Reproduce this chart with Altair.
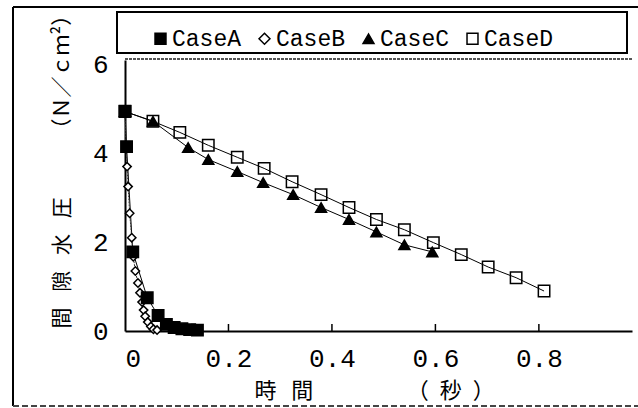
import altair as alt
import pandas as pd

cases = ["CaseA", "CaseB", "CaseC", "CaseD"]

a_t = [0.0, 0.003, 0.015, 0.043, 0.064, 0.080, 0.095, 0.110, 0.125, 0.140]
a_p = [4.95, 4.15, 1.78, 0.75, 0.35, 0.15, 0.08, 0.05, 0.03, 0.02]

b_t = [0.0, 0.002, 0.004, 0.006, 0.009, 0.013, 0.016, 0.020, 0.025, 0.029,
       0.033, 0.036, 0.039, 0.044, 0.050, 0.055, 0.062]
b_p = [4.94, 4.10, 3.70, 3.25, 2.65, 2.10, 1.67, 1.35, 1.08, 0.86,
       0.65, 0.47, 0.33, 0.20, 0.10, 0.04, 0.02]

c_t = [0.0, 0.054, 0.122, 0.161, 0.217, 0.267, 0.325, 0.379, 0.433, 0.486, 0.540, 0.594]
c_p = [4.94, 4.72, 4.13, 3.86, 3.59, 3.34, 3.07, 2.78, 2.51, 2.23, 1.94, 1.78]

d_t = [0.0, 0.054, 0.106, 0.161, 0.217, 0.269, 0.323, 0.379, 0.433, 0.486,
       0.540, 0.596, 0.650, 0.702, 0.756, 0.810]
d_p = [4.94, 4.72, 4.47, 4.18, 3.91, 3.66, 3.36, 3.07, 2.78, 2.51,
       2.28, 1.99, 1.72, 1.44, 1.20, 0.90]

x_ticks = [0, 0.2, 0.4, 0.6, 0.8]
y_ticks = [0, 2, 4, 6]

x_title = "時\u2002\u2006間\u3000\u3000\u3000\u3000\u2005（\u2002秒\u2002）"
y_title = "間\u2002\u2005隙\u2002\u2005水\u2002\u2005圧\u3000\u3000\u2002\u2005（Ｎ／ｃｍ²）"

rows = []
for name, ts, ps in zip(cases, [a_t, b_t, c_t, d_t], [a_p, b_p, c_p, d_p]):
    for i, (t, p) in enumerate(zip(ts, ps)):
        rows.append({"case": name, "t": t, "p": p, "i": i})
df = pd.DataFrame(rows)
ticks_df = pd.DataFrame({"t": x_ticks[1:]})

W, H = 507, 271
OFF_L, OFF_T = 125, 60

xs = alt.Scale(domain=[0, 0.98], nice=False, zero=False)
ys = alt.Scale(domain=[0, 6.1], nice=False)

x_axis = alt.Axis(
    values=x_ticks, ticks=False, grid=False, domainColor="black", domainWidth=2,
    labelFont="Liberation Mono", labelFontSize=26, labelColor="black",
    labelPadding=14, labelExpr="datum.value == 0 ? '0' : format(datum.value, '.1f')",
    title=x_title, titleFont="Noto Sans CJK JP", titleFontSize=22, titleFontWeight="normal",
    titleColor="black", titleAlign="left", titleAnchor="start", titleBaseline="middle",
    titleX=129, titleY=59,
)
y_axis = alt.Axis(
    values=y_ticks, ticks=False, grid=False, domainColor="black", domainWidth=2,
    labelFont="Liberation Mono", labelFontSize=26, labelColor="black", labelPadding=17,
    title=y_title, titleFont="Noto Sans CJK JP", titleFontSize=21, titleFontWeight="normal",
    titleColor="black", titleAngle=-90, titleAlign="left", titleBaseline="middle",
    titleX=-63, titleY=268,
)

base = alt.Chart(df)

lines = base.transform_filter(alt.datum.case != "CaseB").mark_line(
    color="black", strokeWidth=1
).encode(
    x=alt.X("t:Q", scale=xs, axis=x_axis),
    y=alt.Y("p:Q", scale=ys, axis=y_axis),
    detail="case:N",
    order="i:Q",
)
line_b = base.transform_filter(alt.datum.case == "CaseB").mark_line(
    color="#333333", strokeWidth=1, strokeDash=[2, 1]
).encode(
    x=alt.X("t:Q", scale=xs),
    y=alt.Y("p:Q", scale=ys),
    order="i:Q",
)

leg = alt.Legend(
    orient="none", legendX=24, legendY=-33, direction="horizontal", columns=4,
    title=None, labelFont="Liberation Mono", labelFontSize=23, labelColor="black",
    symbolSize=120, symbolStrokeWidth=1.5,
    columnPadding=11, labelOffset=0, padding=0,
)

shape_scale = alt.Scale(domain=cases, range=["square", "diamond", "triangle-up", "square"])
fill_scale = alt.Scale(domain=cases, range=["black", "white", "black", "transparent"])
stroke_scale = alt.Scale(domain=cases, range=["black", "black", "black", "black"])
marker_sizes = {"CaseA": 130, "CaseB": 70, "CaseC": 120, "CaseD": 130}


def point_layer(name):
    return base.transform_filter(alt.datum.case == name).mark_point(
        strokeWidth=1.5, opacity=1, fillOpacity=1, size=marker_sizes[name]
    ).encode(
        x=alt.X("t:Q", scale=xs),
        y=alt.Y("p:Q", scale=ys),
        shape=alt.Shape("case:N", scale=shape_scale, legend=leg),
        fill=alt.Fill("case:N", scale=fill_scale, legend=leg),
        stroke=alt.Stroke("case:N", scale=stroke_scale, legend=leg),
    )


tick_marks = alt.Chart(ticks_df).mark_rule(color="black", strokeWidth=1.5).encode(
    x=alt.X("t:Q", scale=xs),
    y=alt.value(H),
    y2=alt.value(H - 7),
)

legend_box = alt.Chart(ticks_df).mark_rect(
    filled=False, stroke="black", strokeWidth=2
).encode(
    x=alt.value(117 - OFF_L), x2=alt.value(627 - OFF_L),
    y=alt.value(12 - OFF_T), y2=alt.value(53 - OFF_T),
)

plot_top = alt.Chart(ticks_df).mark_rule(color="#555555", strokeWidth=2, strokeDash=[3, 1]).encode(
    x=alt.value(0), x2=alt.value(W), y=alt.value(-1)
)
frame_left = alt.Chart(ticks_df).mark_rule(color="black", strokeWidth=2).encode(
    x=alt.value(13 - OFF_L), y=alt.value(7 - OFF_T), y2=alt.value(406 - OFF_T)
)
frame_top = alt.Chart(ticks_df).mark_rule(color="black", strokeWidth=1.5).encode(
    x=alt.value(13 - OFF_L), x2=alt.value(640 - OFF_L), y=alt.value(7 - OFF_T)
)
frame_bottom = alt.Chart(ticks_df).mark_rule(color="#444444", strokeWidth=1.5, strokeDash=[6, 3]).encode(
    x=alt.value(13 - OFF_L), x2=alt.value(640 - OFF_L), y=alt.value(406 - OFF_T)
)

chart = alt.layer(
    frame_left, frame_top, frame_bottom, legend_box, plot_top,
    lines, line_b, tick_marks,
    point_layer("CaseD"), point_layer("CaseC"), point_layer("CaseB"), point_layer("CaseA"),
).properties(
    width=W, height=H,
    autosize=alt.AutoSizeParams(type="none"),
    padding={"left": OFF_L, "top": OFF_T, "right": 638 - OFF_L - W, "bottom": 408 - OFF_T - H},
    background="white",
).configure_view(stroke=None)

chart.save("out.html", embed_options={"renderer": "svg", "actions": False})
